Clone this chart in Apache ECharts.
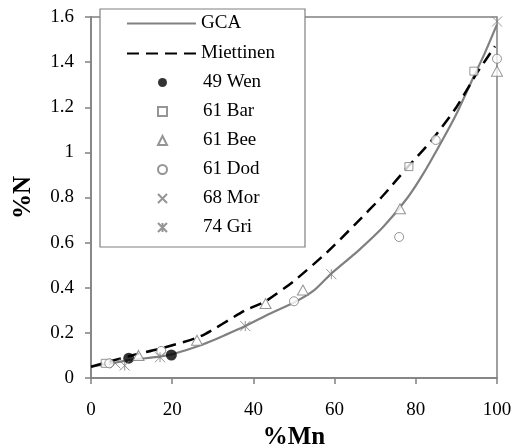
<!DOCTYPE html>
<html>
<head>
<meta charset="utf-8">
<script src="https://cdn.jsdelivr.net/npm/echarts@6/dist/echarts.min.js"></script>
<style>
  html, body { margin: 0; padding: 0; background: #fff; }
  #chart { width: 513px; height: 448px; }
</style>
</head>
<body>
<div id="chart"></div>
<script>
// curves, [%Mn, %N]
var gca = [
    [0, 0.05], [5, 0.065], [10, 0.08], [17, 0.095], [20, 0.105], [27, 0.145],
    [33, 0.19], [38, 0.23], [44, 0.285], [50, 0.335], [55, 0.39], [59, 0.46],
    [66, 0.567], [72, 0.67], [78, 0.8], [82, 0.91], [86.6, 1.056], [90, 1.17],
    [93.6, 1.31], [97, 1.44], [100, 1.567]
];
var miettinen = [
    [0, 0.05], [10, 0.1], [17, 0.13], [27, 0.185], [38, 0.3], [43, 0.34],
    [50, 0.43], [58, 0.555], [65, 0.68], [72, 0.81], [78, 0.935], [84, 1.055],
    [90, 1.2], [95, 1.35], [99.5, 1.47]
];

// measurements
var wen49 = [[9.3, 0.088], [19.8, 0.102]];
var bar61 = [[3.5, 0.065], [78.3, 0.937], [94.3, 1.36]];
var bee61 = [[11.7, 0.1], [26.1, 0.167], [43, 0.33], [52.2, 0.39], [76.1, 0.75], [100, 1.36]];
var dod61 = [[4.5, 0.065], [17.3, 0.12], [50, 0.34], [75.9, 0.625], [84.9, 1.055], [100, 1.415]];
var mor68 = [[6, 0.065], [100, 1.58]];
var gri74 = [[8.3, 0.055], [17, 0.092], [38, 0.23], [59.2, 0.46]];

var xTicks = [0, 20, 40, 60, 80, 100];
var yTicks = [0, 0.2, 0.4, 0.6, 0.8, 1, 1.2, 1.4, 1.6];

var font = 'Liberation Serif';
var grey = '#808080';
var markGrey = '#7a7a7a';

function makeOption() {
    var hollow = {
        color: '#fff',
        borderColor: markGrey,
        borderWidth: 1
    };
    var strokeOnly = {
        color: 'transparent',
        borderColor: markGrey,
        borderWidth: 1
    };
    // hide the marker that ECharts puts in the middle of a line's legend icon
    var noMarker = { color: 'transparent', borderWidth: 0, opacity: 0 };
    var option = {
        animation: false,
        textStyle: { fontFamily: font },
        grid: {
            left: 91, right: 16, top: 17, bottom: 70,
            outerBoundsMode: 'none',
            show: true,
            borderColor: grey,
            borderWidth: 1.5
        },
        graphic: [{
            type: 'rect',
            z: 3,
            shape: { x: 100, y: 9, width: 205, height: 238 },
            style: { fill: '#fff', stroke: grey, lineWidth: 1.2 }
        }],
        legend: [{
            orient: 'vertical',
            left: 126, top: 14,
            padding: 0,
            itemWidth: 69, itemHeight: 14,
            itemGap: 11,
            textStyle: { fontFamily: font, fontSize: 19, color: '#000' },
            data: [
                { name: 'GCA', itemStyle: noMarker },
                { name: 'Miettinen', itemStyle: noMarker }
            ]
        }, {
            orient: 'vertical',
            left: 157, top: 73,
            padding: 0,
            itemWidth: 9, itemHeight: 9,
            itemGap: 10,
            textStyle: { fontFamily: font, fontSize: 19, color: '#000', padding: [0, 0, 0, 31] },
            data: ['49 Wen', '61 Bar', '61 Bee', '61 Dod', '68 Mor', '74 Gri']
        }],
        xAxis: {
            type: 'value',
            min: xTicks[0], max: xTicks[xTicks.length - 1], interval: 20,
            name: '%Mn',
            nameLocation: 'middle',
            nameGap: 43,
            nameTextStyle: { fontFamily: font, fontSize: 25, fontWeight: 'bold', color: '#000' },
            axisLine: { lineStyle: { color: grey, width: 1.5 } },
            axisTick: { show: true, length: 6, lineStyle: { color: grey, width: 1.5 } },
            axisLabel: { margin: 23, fontSize: 19, color: '#000', fontFamily: font },
            splitLine: { show: false }
        },
        yAxis: {
            type: 'value',
            min: yTicks[0], max: yTicks[yTicks.length - 1], interval: 0.2,
            name: '%N',
            nameLocation: 'middle',
            nameRotate: 90,
            nameGap: 55,
            nameTextStyle: { fontFamily: font, fontSize: 25, fontWeight: 'bold', color: '#000' },
            axisLine: { show: true, lineStyle: { color: grey, width: 1.5 } },
            axisTick: { show: true, length: 6, lineStyle: { color: grey, width: 1.5 } },
            axisLabel: {
                margin: 17, fontSize: 19, color: '#000', fontFamily: font,
                formatter: function (v) { return String(+v.toFixed(1)); }
            },
            splitLine: { show: false }
        },
        series: [{
            name: 'GCA',
            type: 'line',
            data: gca,
            symbol: 'none',
            smooth: 0.2,
            z: 2,
            lineStyle: { color: grey, width: 2.2 },
            itemStyle: { color: grey }
        }, {
            name: 'Miettinen',
            type: 'line',
            data: miettinen,
            symbol: 'none',
            smooth: 0.2,
            z: 2,
            lineStyle: { color: '#000', width: 2.5, type: [12, 7] },
            itemStyle: { color: '#000' }
        }, {
            name: '49 Wen',
            type: 'scatter',
            data: wen49,
            symbol: 'circle',
            symbolSize: 11,
            z: 4,
            itemStyle: { color: '#000' }
        }, {
            name: '61 Bar',
            type: 'scatter',
            data: bar61,
            symbol: 'rect',
            symbolSize: 8,
            z: 4,
            itemStyle: hollow
        }, {
            name: '61 Bee',
            type: 'scatter',
            data: bee61,
            symbol: 'triangle',
            symbolSize: [11, 10],
            z: 4,
            itemStyle: hollow
        }, {
            name: '61 Dod',
            type: 'scatter',
            data: dod61,
            symbol: 'circle',
            symbolSize: 9,
            z: 4,
            itemStyle: hollow
        }, {
            name: '68 Mor',
            type: 'scatter',
            data: mor68,
            symbol: 'path://M0,0L10,10M10,0L0,10',
            symbolSize: 10,
            z: 4,
            itemStyle: strokeOnly
        }, {
            name: '74 Gri',
            type: 'scatter',
            data: gri74,
            symbol: 'path://M0,0L10,10M10,0L0,10M5,0L5,10',
            symbolSize: 10,
            z: 4,
            itemStyle: strokeOnly
        }]
    };
    return option;
}

var myChart = echarts.init(document.getElementById('chart'));
myChart.setOption(makeOption());
</script>
</body>
</html>
